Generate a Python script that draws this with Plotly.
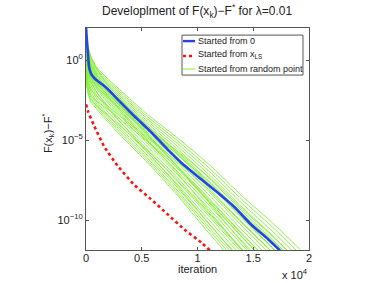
import plotly.graph_objects as go

# iteration grid for the random-start curves
grid_iter = [0, 150, 420, 1000, 2000, 3500, 5500, 8000, 11000, 14000, 17000, 20000]

# log10(F(x_k)-F*) for each random start
green_logs = [
    [1.6, 0.9, 0.25, -0.5, -1.2, -2.15, -3.4, -4.75, -6.5, -8.5, -10.35, -12.4],
    [1.48, 0.78, 0.14, -0.6, -1.32, -2.28, -3.54, -4.92, -6.72, -8.74, -10.62, -12.69],
    [1.35, 0.66, 0.02, -0.71, -1.43, -2.41, -3.68, -5.1, -6.93, -8.97, -10.89, -12.98],
    [1.22, 0.54, -0.09, -0.82, -1.55, -2.54, -3.82, -5.27, -7.14, -9.2, -11.16, -13.27],
    [1.1, 0.42, -0.2, -0.92, -1.66, -2.66, -3.96, -5.44, -7.35, -9.44, -11.42, -13.56],
    [0.98, 0.3, -0.32, -1.02, -1.78, -2.79, -4.1, -5.62, -7.56, -9.68, -11.69, -13.85],
    [0.85, 0.18, -0.43, -1.13, -1.89, -2.92, -4.24, -5.79, -7.78, -9.91, -11.96, -14.14],
    [0.72, 0.06, -0.54, -1.24, -2.0, -3.04, -4.38, -5.96, -7.99, -10.14, -12.22, -14.43],
    [0.6, -0.06, -0.65, -1.34, -2.12, -3.17, -4.52, -6.13, -8.2, -10.38, -12.49, -14.72],
    [0.48, -0.18, -0.76, -1.44, -2.24, -3.3, -4.66, -6.3, -8.42, -10.62, -12.76, -15.01],
    [0.35, -0.3, -0.88, -1.55, -2.35, -3.43, -4.8, -6.48, -8.63, -10.85, -13.03, -15.3],
    [0.22, -0.42, -0.99, -1.66, -2.46, -3.56, -4.94, -6.65, -8.84, -11.08, -13.3, -15.59],
    [0.1, -0.54, -1.1, -1.76, -2.58, -3.68, -5.08, -6.82, -9.05, -11.32, -13.56, -15.88],
    [-0.02, -0.66, -1.22, -1.86, -2.7, -3.81, -5.22, -7.0, -9.26, -11.56, -13.83, -16.17],
    [-0.15, -0.8, -1.38, -2.05, -2.9, -4.02, -5.42, -7.22, -9.52, -11.82, -14.12, -16.46],
    [-0.3, -0.95, -1.55, -2.25, -3.08, -4.2, -5.6, -7.42, -9.75, -12.06, -14.38, -16.75],
    [-0.45, -1.15, -1.75, -2.45, -3.28, -4.38, -5.78, -7.62, -9.98, -12.3, -14.65, -17.04],
    [-0.6, -1.35, -1.95, -2.65, -3.48, -4.56, -5.96, -7.82, -10.22, -12.55, -14.92, -17.33],
    [-0.8, -1.55, -2.15, -2.8, -3.62, -4.72, -6.12, -8.0, -10.42, -12.78, -15.18, -17.62],
    [-1.0, -1.75, -2.35, -2.95, -3.76, -4.86, -6.26, -8.15, -10.6, -13.0, -15.44, -17.91],
    [-1.3, -2.0, -2.6, -3.1, -3.9, -5.0, -6.4, -8.3, -10.8, -13.2, -15.7, -18.2],
    [1.6, 0.9, 0.25, -0.6, -1.6, -2.75, -4.1, -5.7, -7.7, -9.85, -11.9, -14.1],
    [-0.9, -1.6, -2.2, -2.6, -3.1, -3.95, -5.1, -6.6, -8.7, -10.9, -13.0, -15.3],
    [1.1, 0.42, -0.2, -1.0, -1.9, -3.1, -4.6, -6.5, -8.9, -11.4, -13.8, -16.2],
    [0.1, -0.54, -1.1, -1.7, -2.4, -3.3, -4.4, -5.8, -7.6, -9.6, -11.5, -13.6],
    [0.6, -0.06, -0.65, -1.4, -2.3, -3.5, -5.0, -6.9, -9.4, -11.9, -14.4, -16.8],
    [-0.5, -1.2, -1.8, -2.3, -2.9, -3.75, -4.85, -6.25, -8.1, -10.2, -12.25, -14.45],
    [0.85, 0.18, -0.43, -1.2, -2.05, -3.2, -4.7, -6.5, -8.8, -11.05, -13.3, -15.6],
    [-0.15, -0.78, -1.33, -2.05, -3.0, -4.2, -5.75, -7.7, -10.2, -12.65, -15.1, -17.5],
    [0.35, -0.3, -0.88, -1.5, -2.2, -3.1, -4.3, -5.6, -7.3, -9.3, -11.2, -13.3],
    [-1.2, -1.9, -2.5, -2.9, -3.5, -4.4, -5.65, -7.35, -9.6, -11.9, -14.2, -16.5],
]

# started from 0 (blue)
blue_iter = [0, 60, 120, 270, 450, 700, 1020, 1500, 1920, 2820, 4320, 5830, 7330, 8830,
             10330, 11830, 13330, 14830, 16330, 17390]
blue_log = [2.1, 1.4, 0.9, -0.4, -0.85, -1.1, -1.3, -1.55, -1.8, -2.45, -3.5, -4.5, -5.6,
            -6.6, -7.45, -8.3, -9.2, -10.3, -11.2, -11.9]

# started from x_LS (red)
red_iter = [0, 200, 720, 1620, 2820, 4320, 5830, 7330, 8830, 10330, 11200]
red_log = [-2.77, -3.25, -4.1, -5.4, -6.6, -7.8, -8.7, -9.65, -10.6, -11.4, -11.95]

x_tickvals = [0, 5000, 10000, 15000, 20000]
x_ticktext = ["0", "0.5", "1", "1.5", "2"]
y_tickvals = [1, 1e-5, 1e-10]
y_ticktext = ["10<sup>0</sup>", "10<sup>−5</sup>", "10<sup>−10</sup>"]

legend_labels = ["Started from 0", "Started from x<sub>LS</sub>", "Started from random point"]

GREEN = "#86ee3a"
BLUE = "#2244ee"
RED = "#ff1010"
AX = "#555555"

fig = go.Figure()
for g in green_logs:
    fig.add_trace(go.Scatter(
        x=grid_iter, y=[10 ** v for v in g], mode="lines",
        line=dict(color=GREEN, width=0.9, shape="spline", smoothing=0.5),
        showlegend=False, hoverinfo="skip"))
fig.add_trace(go.Scatter(
    x=blue_iter, y=[10 ** v for v in blue_log], mode="lines",
    line=dict(color=BLUE, width=2.6, shape="spline", smoothing=0.5),
    showlegend=False))
fig.add_trace(go.Scatter(
    x=red_iter, y=[10 ** v for v in red_log], mode="lines",
    line=dict(color=RED, width=2.6, dash="dot", shape="spline", smoothing=0.4),
    showlegend=False))

axis_common = dict(showline=True, mirror="allticks", linecolor=AX, linewidth=1,
                   ticks="inside", ticklen=3, tickcolor=AX, showgrid=False,
                   zeroline=False, tickfont=dict(size=11, color="#222222"))

fig.update_layout(
    width=382, height=283,
    margin=dict(l=86, r=73, t=28, b=33),
    paper_bgcolor="white", plot_bgcolor="white",
    font=dict(family="Liberation Sans, Arial, sans-serif", color="#222222", size=11),
    xaxis=dict(range=[0, 20000], tickvals=x_tickvals, ticktext=x_ticktext,
               ticklabelstandoff=-2, **axis_common),
    yaxis=dict(type="log", range=[-11.875, 2.0], tickvals=y_tickvals, ticktext=y_ticktext,
               ticklabelstandoff=0, **axis_common),
    showlegend=False,
)

# title and axis labels
fig.add_annotation(text="Developlment of F(x<sub>k</sub>)−F<sup>*</sup> for λ=0.01",
                   xref="paper", yref="paper", x=0.498, y=1.077, xanchor="center",
                   yanchor="middle", showarrow=False, font=dict(size=12))
fig.add_annotation(text="iteration", xref="paper", yref="paper", x=0.498, y=-0.084,
                   xanchor="center", yanchor="middle", showarrow=False, font=dict(size=11))
fig.add_annotation(text="F(x<sub>k</sub>)−F<sup>*</sup>", xref="paper", yref="paper",
                   x=-0.170, y=0.527, xanchor="center", yanchor="middle", textangle=-90,
                   showarrow=False, font=dict(size=11))
fig.add_annotation(text="x 10<sup>4</sup>", xref="paper", yref="paper",
                   x=1.0045, y=-0.106, xanchor="right", yanchor="middle",
                   showarrow=False, font=dict(size=11))

# legend drawn manually (MATLAB style)
lx0, lx1, ly0, ly1 = 0.4305, 0.973, 0.788, 0.968
fig.add_shape(type="rect", xref="paper", yref="paper", x0=lx0, x1=lx1, y0=ly0, y1=ly1,
              line=dict(color=AX, width=1), fillcolor="white", layer="above")
sample_y = [0.941, 0.874, 0.815]
text_y = [0.941, 0.880, 0.815]
entry_styles = [dict(color=BLUE, width=2.4), dict(color=RED, width=2.4, dash="dot"),
                dict(color=GREEN, width=1)]
for sy, ty, lab, st in zip(sample_y, text_y, legend_labels, entry_styles):
    fig.add_shape(type="line", xref="paper", yref="paper", x0=0.435, x1=0.489,
                  y0=sy, y1=sy, line=st, layer="above")
    fig.add_annotation(text=lab, xref="paper", yref="paper", x=0.494, y=ty,
                       xanchor="left", yanchor="middle", showarrow=False,
                       font=dict(size=9))

fig.write_html("out.html", config={"displayModeBar": False},
               post_script="document.body.style.margin='0';")
